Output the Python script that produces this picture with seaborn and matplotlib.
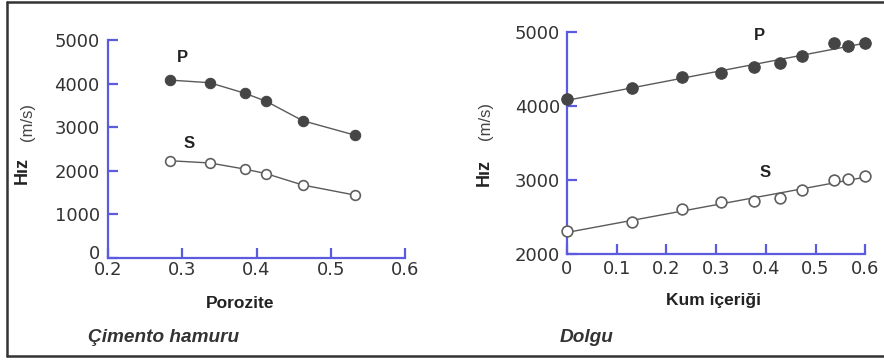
import matplotlib
matplotlib.use("Agg")
import matplotlib.pyplot as plt
import matplotlib.transforms as mtransforms
from matplotlib.lines import Line2D
import numpy as np
import pandas as pd
import seaborn as sns

# Cement paste: velocity vs porosity
porozite = [0.284, 0.337, 0.384, 0.413, 0.462, 0.532]
cimento_p = [4080, 4020, 3780, 3595, 3150, 2820]
cimento_s = [2230, 2180, 2040, 1935, 1675, 1445]

# Fill: velocity vs sand content
kum = [0.0, 0.131, 0.231, 0.310, 0.376, 0.429, 0.473, 0.536, 0.565, 0.600]
dolgu_p = [4105, 4250, 4390, 4455, 4535, 4580, 4685, 4850, 4815, 4850]
dolgu_s = [2315, 2440, 2615, 2705, 2720, 2755, 2870, 3010, 3015, 3060]

left_yticks = [0, 1000, 2000, 3000, 4000, 5000]
left_xticks = [0.2, 0.3, 0.4, 0.5, 0.6]
right_yticks = [2000, 3000, 4000, 5000]
right_xticks = [0, 0.1, 0.2, 0.3, 0.4, 0.5, 0.6]
right_xticklabels = ["0", "0.1", "0.2", "0.3", "0.4", "0.5", "0.6"]

sns.set_theme(style="white")
plt.rcParams["font.family"] = ["DejaVu Sans"]

AXIS_BLUE = "#5b5be0"
LABEL_GREY = "#333333"
LINE_GREY = "#5a5a5a"
DOT_DARK = "#454545"

fig = plt.figure(figsize=(8.84, 3.6), dpi=100)
fig.patch.set_facecolor("white")
fig.patch.set_edgecolor("white")
fig.patch.set_linewidth(0)

ax1 = fig.add_axes([0.1222, 0.2833, 0.336, 0.6056])
ax2 = fig.add_axes([0.6414, 0.2936, 0.3375, 0.6167])


def style_axes(ax, xlim, ylim, xticks, yticks, xpad, ypad, xticklabels=None):
    ax.set_facecolor("none")
    ax.set_xlim(*xlim)
    ax.set_ylim(*ylim)
    ax.set_xticks(xticks)
    if xticklabels is not None:
        ax.set_xticklabels(xticklabels)
    ax.set_yticks(yticks)
    for side in ("top", "right"):
        ax.spines[side].set_visible(False)
    for side in ("left", "bottom"):
        ax.spines[side].set_color(AXIS_BLUE)
        ax.spines[side].set_linewidth(1.6)
    ax.tick_params(axis="both", direction="in", length=7.5, width=1.6,
                   color=AXIS_BLUE, labelcolor=LABEL_GREY, labelsize=13,
                   bottom=True, left=True, top=False, right=False)
    ax.tick_params(axis="x", pad=xpad)
    ax.tick_params(axis="y", pad=ypad)
    ax.set_xlabel("")
    ax.set_ylabel("")
    ax.grid(False)


# Left panel: connected measurements
df_c = pd.DataFrame({"Porozite": porozite, "P": cimento_p, "S": cimento_s})
sns.lineplot(data=df_c, x="Porozite", y="P", ax=ax1, color=LINE_GREY,
             linewidth=1.0, marker="o", markersize=7.5,
             markerfacecolor=DOT_DARK, markeredgecolor=DOT_DARK, zorder=3)
sns.lineplot(data=df_c, x="Porozite", y="S", ax=ax1, color=LINE_GREY,
             linewidth=1.0, marker="o", markersize=7,
             markerfacecolor="white", markeredgecolor="#5f5f5f",
             markeredgewidth=1.2, zorder=3)
style_axes(ax1, (0.2, 0.6), (0, 5000), left_xticks, left_yticks, 2.5, 6)
# lift the "0" label a little so it sits above the "0.2" label
ax1.get_yticklabels()[0].set_transform(
    ax1.get_yticklabels()[0].get_transform()
    + mtransforms.ScaledTranslation(0, 4 / 72, fig.dpi_scale_trans))
ax1.text(0.2996, 4610, "P", fontsize=12, fontweight="bold",
         color="#222222", ha="center", va="center", family="Liberation Sans")
ax1.text(0.309, 2615, "S", fontsize=12, fontweight="bold",
         color="#222222", ha="center", va="center", family="Liberation Sans")

# Right panel: linear trend with measurements
df_d = pd.DataFrame({"Kum": kum, "P": dolgu_p, "S": dolgu_s})
sns.regplot(data=df_d, x="Kum", y="P", ax=ax2, scatter=False, ci=None,
            truncate=True, line_kws={"color": LINE_GREY, "linewidth": 1.0})
sns.regplot(data=df_d, x="Kum", y="S", ax=ax2, scatter=False, ci=None,
            truncate=True, line_kws={"color": LINE_GREY, "linewidth": 1.0})
sns.scatterplot(data=df_d, x="Kum", y="P", ax=ax2, s=68, color=DOT_DARK,
                edgecolor=DOT_DARK, linewidth=0.8, zorder=3, clip_on=False)
sns.scatterplot(data=df_d, x="Kum", y="S", ax=ax2, s=60, facecolor="white",
                edgecolor="#5f5f5f", linewidth=1.2, zorder=3, clip_on=False)
style_axes(ax2, (0, 0.6), (2000, 5000), right_xticks, right_yticks, 4, 5,
           right_xticklabels)
ax2.text(0.387, 4950, "P", fontsize=12, fontweight="bold",
         color="#222222", ha="center", va="center", family="Liberation Sans")
ax2.text(0.399, 3099, "S", fontsize=12, fontweight="bold",
         color="#222222", ha="center", va="center", family="Liberation Sans")


def fx(px):
    return px / 884.0


def fy(py):
    return 1.0 - py / 360.0


# Axis titles
for x_hiz, y_hiz, x_ms, y_ms in ((22, 171, 27, 122), (484, 172, 485, 121)):
    fig.text(fx(x_hiz), fy(y_hiz), "Hız", rotation=90, ha="center",
             va="center", fontsize=13, fontweight="bold", color="#222222",
             family="Liberation Sans")
    fig.text(fx(x_ms), fy(y_ms), "(m/s)", rotation=90, ha="center",
             va="center", fontsize=12, color="#444444",
             family="Liberation Sans")

fig.text(fx(240), fy(303), "Porozite", ha="center", va="center",
         fontsize=12.5, fontweight="bold", color="#222222",
         family="Liberation Sans")
fig.text(fx(714), fy(300), "Kum içeriği", ha="center", va="center",
         fontsize=12.5, fontweight="bold", color="#222222",
         family="Liberation Sans")

# Panel captions
fig.text(fx(88), fy(338), "Çimento hamuru", ha="left", va="center",
         fontsize=13.7, fontweight="bold", fontstyle="italic", color="#333333",
         family="Liberation Sans")
fig.text(fx(560), fy(337), "Dolgu", ha="left", va="center",
         fontsize=13.7, fontweight="bold", fontstyle="italic", color="#333333",
         family="Liberation Sans")

# Frame around the figure
frame_kw = dict(color="#333333", linewidth=1.8, transform=fig.transFigure)
fig.add_artist(Line2D([fx(7.5), fx(7.5)], [fy(1.5), fy(355.5)], **frame_kw))
fig.add_artist(Line2D([fx(7.5), 1.0], [fy(1.5), fy(1.5)], **frame_kw))
fig.add_artist(Line2D([fx(7.5), 1.0], [fy(355.5), fy(355.5)], **frame_kw))

fig.savefig("out.png", dpi=100, facecolor="white", edgecolor="white")
